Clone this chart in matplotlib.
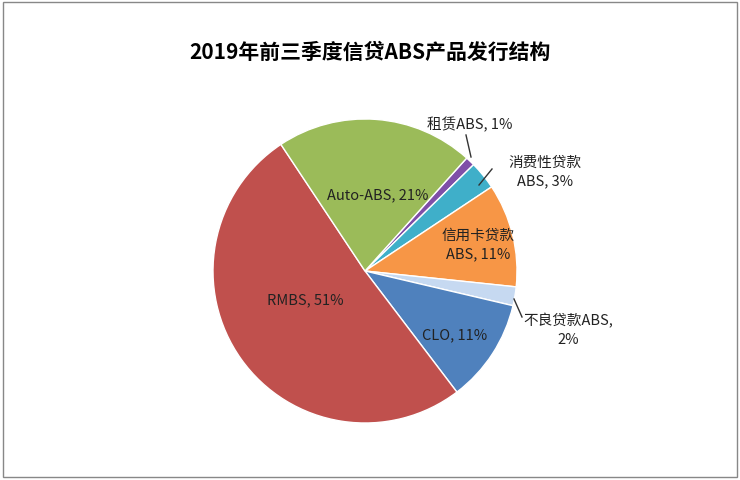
import matplotlib.pyplot as plt
from matplotlib.patches import Rectangle

plt.rcParams['font.family'] = ['Noto Sans CJK SC', 'DejaVu Sans']

labels = ['租赁ABS, 1%', '消费性贷款\nABS, 3%', '信用卡贷款\nABS, 11%', '不良贷款ABS,\n2%',
          'CLO, 11%', 'RMBS, 51%', 'Auto-ABS, 21%']
shares = [1, 3, 11, 2, 11, 51, 21]
colors = ['#7F4FA8', '#3FAFC9', '#F79646', '#C6D9F1', '#4F81BD', '#C0504D', '#9BBB59']
# label text positions (pixels from top-left) and leader lines
label_pos = [(470, 125), (545, 172), (478, 245), (568, 330), (455, 335), (305, 300), (378, 195)]
leaders = {0: ((466, 136), (471, 158)), 1: ((492, 170), (479, 186)), 3: ((522, 318), (514, 300))}

W, H = 740, 481
fig = plt.figure(figsize=(7.4, 4.81), dpi=100)
ax = fig.add_axes([0, 0, 1, 1])

ax.pie(shares, colors=colors, startangle=48, counterclock=False,
       center=(365, H - 272), radius=152, frame=True,
       wedgeprops=dict(edgecolor='white', linewidth=1))
ax.set_xlim(0, W)
ax.set_ylim(0, H)
ax.set_aspect('equal')
ax.axis('off')

for (x, y), t in zip(label_pos, labels):
    ax.text(x, H - y, t, ha='center', va='center', fontsize=10.5, color='#222222', linespacing=1.4)
for (a, b) in leaders.values():
    ax.plot([a[0], b[0]], [H - a[1], H - b[1]], color='#333333', lw=1)

ax.text(W / 2, H - 52, '2019年前三季度信贷ABS产品发行结构', ha='center', va='center',
        fontsize=15, fontweight='bold')
ax.add_patch(Rectangle((3, 3), W - 6, H - 6, fill=False, edgecolor='#888888', lw=1))

fig.savefig('out.png', dpi=100)
